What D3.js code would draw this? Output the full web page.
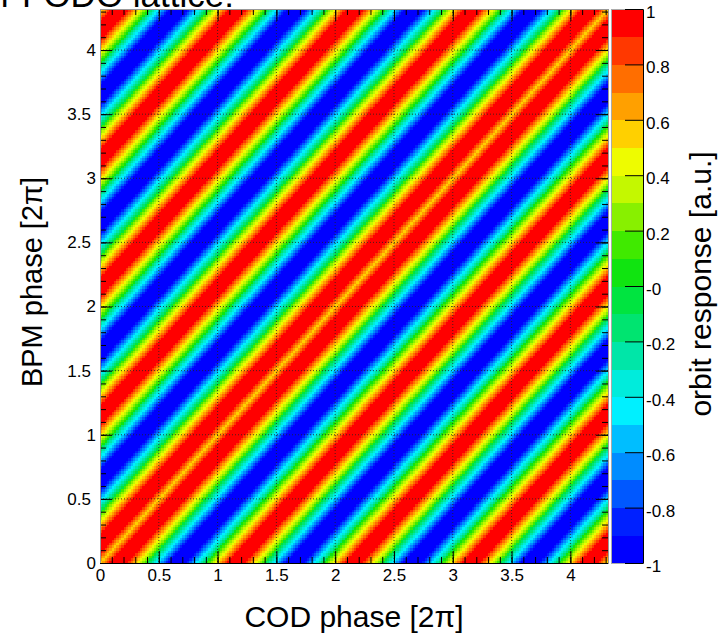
<!DOCTYPE html>
<html>
<head>
<meta charset="utf-8">
<script src="https://cdn.jsdelivr.net/npm/d3@7"></script>
<style>
  body { margin: 0; background: #fff; }
  svg text { font-family: "Liberation Sans", Arial, Helvetica, sans-serif; fill: #000; }
</style>
</head>
<body>
<svg width="726" height="634"></svg>
<script>
// both axes are phases in units of 2*pi
var phaseMax = 4.32;
var binWidth = 0.02;

var axisTicks = [0, 0.5, 1, 1.5, 2, 2.5, 3, 3.5, 4];
var axisTickLabels = ["0", "0.5", "1", "1.5", "2", "2.5", "3", "3.5", "4"];

// response read off the map as a function of |BPM phase - COD phase|,
// one entry per bin step (0.02), from offset 0 up to 4.30
var responseByOffset = [
  0.55, 0.65, 0.75, 0.85, 0.95, 0.95, 0.95, 0.95, 0.95, 0.95, 0.95, 0.95, 0.85, 0.75, 0.65, 0.55, 0.45, 0.35, 0.25, 0.15, -0.05, -0.15, -0.25, -0.35, -0.45,
  -0.55, -0.65, -0.75, -0.85, -0.95, -0.95, -0.95, -0.95, -0.95, -0.95, -0.95, -0.95, -0.85, -0.75, -0.65, -0.55, -0.45, -0.35, -0.25, -0.15, 0.05, 0.15, 0.25, 0.35, 0.45,
  0.55, 0.65, 0.75, 0.85, 0.95, 0.95, 0.95, 0.95, 0.95, 0.95, 0.95, 0.95, 0.85, 0.75, 0.65, 0.55, 0.45, 0.35, 0.25, 0.15, -0.05, -0.15, -0.25, -0.35, -0.45,
  -0.55, -0.65, -0.75, -0.85, -0.95, -0.95, -0.95, -0.95, -0.95, -0.95, -0.95, -0.95, -0.85, -0.75, -0.65, -0.55, -0.45, -0.35, -0.25, -0.15, 0.05, 0.15, 0.25, 0.35, 0.45,
  0.55, 0.65, 0.75, 0.85, 0.95, 0.95, 0.95, 0.95, 0.95, 0.95, 0.95, 0.95, 0.85, 0.75, 0.65, 0.55, 0.45, 0.35, 0.25, 0.15, -0.05, -0.15, -0.25, -0.35, -0.45,
  -0.55, -0.65, -0.75, -0.85, -0.95, -0.95, -0.95, -0.95, -0.95, -0.95, -0.95, -0.95, -0.85, -0.75, -0.65, -0.55, -0.45, -0.35, -0.25, -0.15, 0.05, 0.15, 0.25, 0.35, 0.45,
  0.55, 0.65, 0.75, 0.85, 0.95, 0.95, 0.95, 0.95, 0.95, 0.95, 0.95, 0.95, 0.85, 0.75, 0.65, 0.55, 0.45, 0.35, 0.25, 0.15, -0.05, -0.15, -0.25, -0.35, -0.45,
  -0.55, -0.65, -0.75, -0.85, -0.95, -0.95, -0.95, -0.95, -0.95, -0.95, -0.95, -0.95, -0.85, -0.75, -0.65, -0.55, -0.45, -0.35, -0.25, -0.15, 0.05, 0.15, 0.25, 0.35, 0.45,
  0.55, 0.65, 0.75, 0.85, 0.95, 0.95, 0.95, 0.95, 0.95, 0.95, 0.95, 0.95, 0.85, 0.75, 0.65, 0.55
];

// 20 contour levels between -1 and 1
var levelEdges = [-1, -0.9, -0.8, -0.7, -0.6, -0.5, -0.4, -0.3, -0.2, -0.1, 0,
  0.1, 0.2, 0.3, 0.4, 0.5, 0.6, 0.7, 0.8, 0.9, 1];
var levelColors = [
  "#0000ff", "#0020ff", "#0058ff", "#008cff", "#00beff",
  "#00f0ff", "#00ecdc", "#00e6a8", "#00e470", "#00e440",
  "#10e410", "#40ea00", "#88f000", "#c4f800", "#eefc00",
  "#ffd000", "#ffa000", "#ff6e00", "#ff3800", "#ff0000"
];
var colorbarTicks = [1, 0.8, 0.6, 0.4, 0.2, 0, -0.2, -0.4, -0.6, -0.8, -1];
var colorbarTickLabels = ["1", "0.8", "0.6", "0.4", "0.2", "-0", "-0.2", "-0.4", "-0.6", "-0.8", "-1"];

var svg = d3.select("svg"),
  margin = { top: 9, right: 118, bottom: 71, left: 100 },
  width = +svg.attr("width") - margin.left - margin.right,
  height = +svg.attr("height") - margin.top - margin.bottom,
  g = svg
    .append("g")
    .attr("transform", "translate(" + margin.left + "," + margin.top + ")");

var x = d3.scaleLinear().domain([0, phaseMax]).range([0, width]);
var y = d3.scaleLinear().domain([0, phaseMax]).range([height, 0]);
var color = d3.scaleThreshold().domain(levelEdges.slice(1, -1)).range(levelColors);

// cells of the map
var nBins = responseByOffset.length;
var cells = [];
for (var i = 0; i < nBins; i++) {
  for (var j = 0; j < nBins; j++) {
    cells.push({ i: i, j: j, v: responseByOffset[Math.abs(j - i)] });
  }
}

g.append("clipPath").attr("id", "plotclip")
  .append("rect").attr("width", width).attr("height", height);

g.append("g")
  .attr("clip-path", "url(#plotclip)")
  .attr("shape-rendering", "crispEdges")
  .selectAll("rect")
  .data(cells)
  .enter()
  .append("rect")
  .attr("x", function (d) { return x(d.i * binWidth); })
  .attr("y", function (d) { return y((d.j + 1) * binWidth); })
  .attr("width", function (d) { return x((d.i + 1) * binWidth) - x(d.i * binWidth) + 0.4; })
  .attr("height", function (d) { return y(d.j * binWidth) - y((d.j + 1) * binWidth) + 0.4; })
  .attr("fill", function (d) { return color(d.v); });

// dotted grid
var grid = g.append("g")
  .attr("stroke", "#222")
  .attr("stroke-width", 1)
  .attr("stroke-dasharray", "1,2")
  .attr("stroke-opacity", 0.8);
grid.selectAll(".gx").data(axisTicks.slice(1)).enter().append("line")
  .attr("x1", function (d) { return x(d); })
  .attr("x2", function (d) { return x(d); })
  .attr("y1", 0).attr("y2", height);
grid.selectAll(".gy").data(axisTicks.slice(1)).enter().append("line")
  .attr("y1", function (d) { return y(d); })
  .attr("y2", function (d) { return y(d); })
  .attr("x1", 0).attr("x2", width);

function tidy(sel) {
  sel.attr("font-family", null).attr("font-size", 17);
  sel.select(".domain").remove();
  sel.selectAll("line").attr("stroke", "#000");
}

var minorX = x.ticks(40), minorY = y.ticks(40);

// bottom axis
g.append("g")
  .attr("transform", "translate(0," + height + ")")
  .call(d3.axisBottom(x).tickValues(minorX).tickFormat("").tickSize(-6).tickSizeOuter(0))
  .call(tidy);
g.append("g")
  .attr("transform", "translate(0," + height + ")")
  .call(d3.axisBottom(x).tickValues(axisTicks)
    .tickFormat(function (d, i) { return axisTickLabels[i]; })
    .tickSize(-12).tickPadding(6).tickSizeOuter(0))
  .call(tidy);

// left axis
g.append("g")
  .call(d3.axisLeft(y).tickValues(minorY).tickFormat("").tickSize(-6).tickSizeOuter(0))
  .call(tidy);
g.append("g")
  .call(d3.axisLeft(y).tickValues(axisTicks)
    .tickFormat(function (d, i) { return axisTickLabels[i]; })
    .tickSize(-12).tickPadding(4).tickSizeOuter(0))
  .call(tidy)
  .selectAll("text")
  .attr("x", function (d, i) { return axisTickLabels[i].indexOf(".") >= 0 ? -9 : -4; });

// mirrored ticks on top and right
g.append("g")
  .call(d3.axisTop(x).tickValues(minorX).tickFormat("").tickSize(-6).tickSizeOuter(0))
  .call(tidy);
g.append("g")
  .call(d3.axisTop(x).tickValues(axisTicks).tickFormat("").tickSize(-12).tickSizeOuter(0))
  .call(tidy);
g.append("g")
  .attr("transform", "translate(" + width + ",0)")
  .call(d3.axisRight(y).tickValues(minorY).tickFormat("").tickSize(-6).tickSizeOuter(0))
  .call(tidy);
g.append("g")
  .attr("transform", "translate(" + width + ",0)")
  .call(d3.axisRight(y).tickValues(axisTicks).tickFormat("").tickSize(-12).tickSizeOuter(0))
  .call(tidy);

// frame
g.append("rect")
  .attr("width", width).attr("height", height)
  .attr("fill", "none").attr("stroke", "#999").attr("shape-rendering", "crispEdges");
g.append("line")
  .attr("x1", 0).attr("x2", width).attr("y1", height).attr("y2", height)
  .attr("stroke", "#000").attr("shape-rendering", "crispEdges");

// colour bar
var cbX = width + 3, cbW = 32;
var cy = d3.scaleLinear().domain([-1, 1]).range([height, 0]);
var bar = g.append("g").attr("transform", "translate(" + cbX + ",0)");
bar.selectAll("rect")
  .data(levelColors)
  .enter()
  .append("rect")
  .attr("x", 0)
  .attr("width", cbW)
  .attr("y", function (d, i) { return cy(levelEdges[i + 1]); })
  .attr("height", function (d, i) { return cy(levelEdges[i]) - cy(levelEdges[i + 1]) + 0.5; })
  .attr("fill", function (d) { return d; })
  .attr("shape-rendering", "crispEdges");
bar.append("rect")
  .attr("width", cbW).attr("height", height)
  .attr("fill", "none").attr("stroke", "#aaa").attr("shape-rendering", "crispEdges");
bar.append("g")
  .attr("transform", "translate(" + cbW + ",0)")
  .call(d3.axisRight(cy).tickValues(colorbarTicks)
    .tickFormat(function (d, i) { return colorbarTickLabels[i]; })
    .tickSize(-18).tickPadding(3).tickSizeOuter(0))
  .call(function (sel) {
    sel.attr("font-family", null).attr("font-size", 17);
    sel.select(".domain").attr("stroke", "#000");
    sel.selectAll("line").attr("stroke", "#000");
    sel.selectAll("text").attr("dy", "0.5em");
  });

// titles
svg.append("text")
  .attr("x", 234).attr("y", 7)
  .attr("text-anchor", "end")
  .attr("font-size", 35)
  .text("for FODO lattice:");

svg.append("text")
  .attr("x", margin.left + width / 2).attr("y", 627)
  .attr("text-anchor", "middle")
  .attr("font-size", 30)
  .text("COD phase [2\u03c0]");

svg.append("text")
  .attr("transform", "translate(42," + (margin.top + height / 2 - 4) + ") rotate(-90)")
  .attr("text-anchor", "middle")
  .attr("font-size", 29)
  .text("BPM phase [2\u03c0]");

svg.append("text")
  .attr("transform", "translate(711," + (margin.top + height / 2 - 2) + ") rotate(-90)")
  .attr("text-anchor", "middle")
  .attr("font-size", 30)
  .text("orbit response [a.u.]");
</script>
</body>
</html>
